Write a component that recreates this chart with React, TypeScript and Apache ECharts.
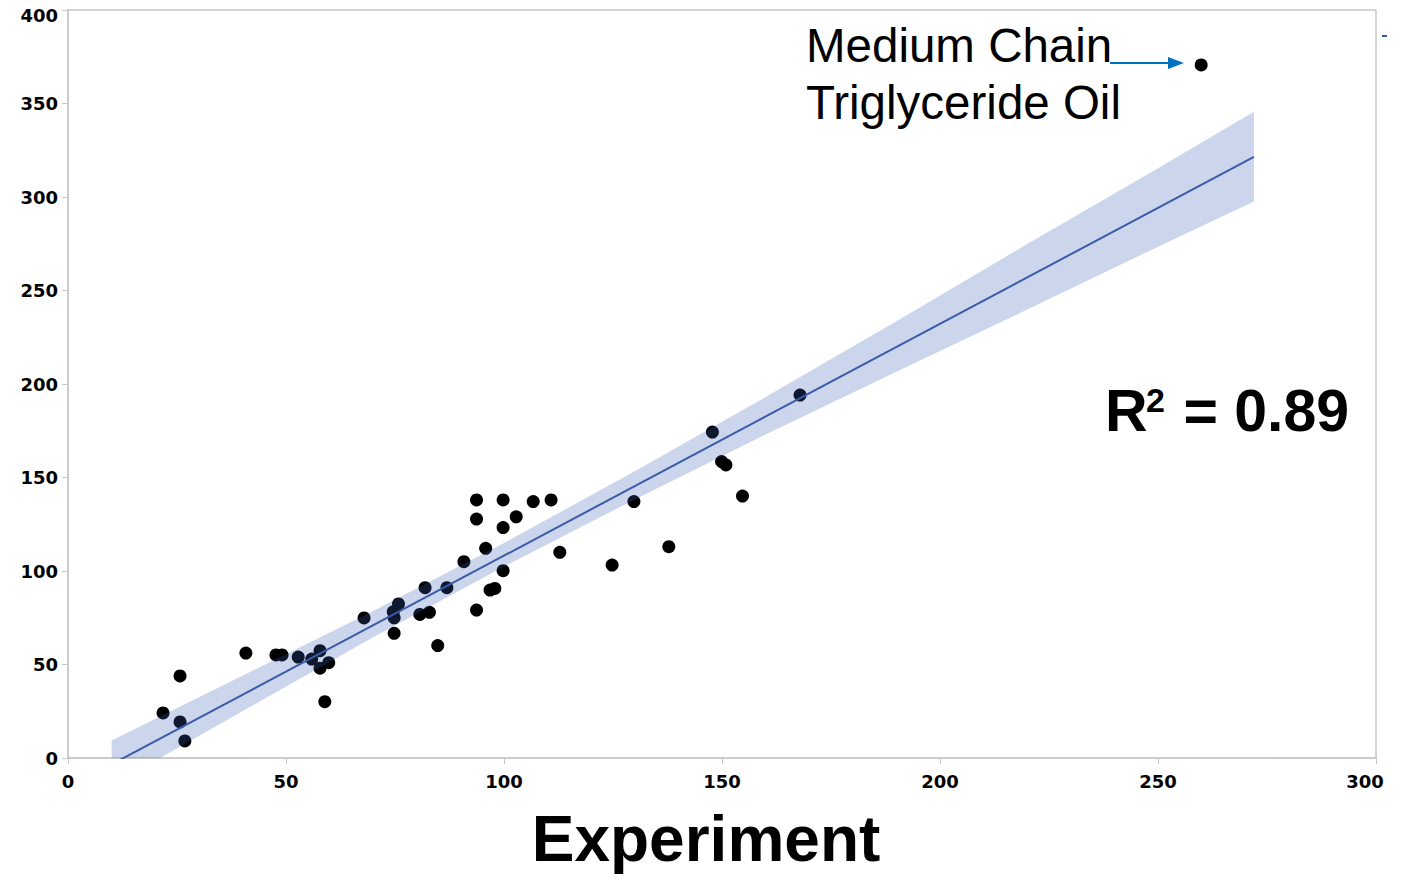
import React, { useEffect, useRef } from "react";
import * as echarts from "echarts";

// Experiment (x) vs predicted (y) values
const xValues = [21.8, 25.7, 25.7, 26.8, 40.8, 47.7, 49.1, 52.8, 55.9, 57.8, 59.8, 57.8, 58.9, 67.9, 75.8, 74.6, 74.8, 74.8, 80.7, 82.9, 81.9, 86.9, 84.8, 90.8, 93.7, 93.7, 93.7, 95.8, 96.8, 97.9, 99.8, 99.8, 99.8, 102.8, 106.7, 110.8, 112.8, 124.8, 129.8, 137.8, 147.8, 149.9, 150.9, 154.7, 167.9, 259.9];
const yValues = [24.1, 43.9, 19.3, 9.1, 56.1, 55.1, 55.1, 54.0, 52.9, 57.4, 51.0, 48.0, 30.1, 74.9, 82.4, 78.2, 75.0, 66.7, 76.8, 77.9, 91.1, 91.1, 60.1, 105.0, 79.1, 127.8, 138.0, 112.1, 89.8, 90.7, 100.2, 123.2, 138.0, 129.0, 137.1, 138.0, 110.0, 103.2, 137.1, 113.0, 174.3, 158.5, 156.7, 140.1, 194.1, 370.6];

// Fitted line (slope, intercept) and its x range
const fitSlope = 1.24;
const fitIntercept = -15.8;
const fitX = [10, 272];

// Confidence band
const bandX = [10, 40, 70, 100, 130, 160, 190, 220, 250, 272];
const bandUpper = [9.3, 44, 78.6, 115, 153.3, 193, 233.6, 274.8, 315.4, 345.6];
const bandLower = [-14.7, 25, 64.6, 102.4, 138.3, 173, 206.6, 239.8, 273.4, 297.6];

const xTicks = [0, 300, 50];
const yTicks = [0, 400, 50];

export default function App() {
  const ref = useRef<HTMLDivElement>(null);
  useEffect(() => {
    if (!ref.current) return;
    const chart = echarts.init(ref.current, undefined, { renderer: "svg" });
    const points = xValues.map((x, i) => [x, yValues[i]]);
    const fitLine = fitX.map((x) => [x, fitSlope * x + fitIntercept]);
    const labelFont = "DejaVu Sans";
    const labelSize = 18;
    const axisGrey = "#C8C8C8";
    chart.setOption({
      animation: false,
      grid: {
        left: 68,
        right: 31,
        top: 10,
        bottom: 116,
        show: true,
        borderColor: axisGrey,
        borderWidth: 1.5,
      },
      xAxis: {
        type: "value",
        min: xTicks[0],
        max: xTicks[1],
        interval: xTicks[2],
        splitLine: { show: false },
        axisLine: { show: true, lineStyle: { color: axisGrey, width: 1.5 } },
        axisTick: { show: true, length: 6, lineStyle: { color: axisGrey } },
        axisLabel: {
          margin: 14,
          color: "#000",
          fontFamily: labelFont,
          fontWeight: "bold",
          fontSize: labelSize,
          formatter: (v: number) => (v === xTicks[1] ? "{last|" + v + "}" : "{n|" + v + "}"),
          rich: {
            n: { fontFamily: labelFont, fontWeight: "bold", fontSize: labelSize, color: "#000" },
            last: { fontFamily: labelFont, fontWeight: "bold", fontSize: labelSize, color: "#000", padding: [0, 22, 0, 0] },
          },
        },
      },
      yAxis: {
        type: "value",
        min: yTicks[0],
        max: yTicks[1],
        interval: yTicks[2],
        splitLine: { show: false },
        axisLine: { show: true, lineStyle: { color: axisGrey, width: 1.5 } },
        axisTick: { show: true, length: 6, lineStyle: { color: axisGrey } },
        axisLabel: {
          margin: 10,
          color: "#000",
          fontFamily: labelFont,
          fontWeight: "bold",
          fontSize: labelSize,
          formatter: (v: number) => (v === yTicks[1] ? "{top|" + v + "}" : "{n|" + v + "}"),
          rich: {
            n: { fontFamily: labelFont, fontWeight: "bold", fontSize: labelSize, color: "#000" },
            top: { fontFamily: labelFont, fontWeight: "bold", fontSize: labelSize, color: "#000", padding: [10, 0, 0, 0] },
          },
        },
      },
      series: [
        {
          type: "scatter",
          data: points,
          symbol: "circle",
          symbolSize: 13,
          itemStyle: { color: "#000", opacity: 1 },
          z: 2,
        },
        {
          type: "custom",
          clip: true,
          data: [[bandX[0], bandLower[0]]],
          z: 3,
          renderItem: (params: any, api: any) => {
            const pts: number[][] = [];
            for (let i = 0; i < bandX.length; i++) pts.push(api.coord([bandX[i], bandUpper[i]]));
            for (let i = bandX.length - 1; i >= 0; i--) pts.push(api.coord([bandX[i], bandLower[i]]));
            return {
              type: "polygon",
              shape: { points: pts },
              style: { fill: "rgba(56,96,185,0.26)", stroke: "none" },
            };
          },
        },
        {
          type: "line",
          data: fitLine,
          clip: true,
          symbol: "none",
          lineStyle: { color: "#3A5BA8", width: 2 },
          z: 4,
        },
      ],
      graphic: [
        {
          type: "text",
          left: 806,
          top: 21,
          style: { text: "Medium Chain", fontFamily: "Liberation Sans", fontSize: 47.5, fill: "#000" },
        },
        {
          type: "text",
          left: 806,
          top: 78,
          style: { text: "Triglyceride Oil", fontFamily: "Liberation Sans", fontSize: 47.5, fill: "#000" },
        },
        {
          type: "line",
          shape: { x1: 1110, y1: 63, x2: 1172, y2: 63 },
          style: { stroke: "#0070C0", lineWidth: 2 },
        },
        {
          type: "polygon",
          shape: { points: [[1168, 57], [1184, 63], [1168, 69]] },
          style: { fill: "#0070C0" },
        },
        {
          type: "line",
          shape: { x1: 1382, y1: 36, x2: 1387, y2: 36 },
          style: { stroke: "#3A5BA8", lineWidth: 2 },
        },
        {
          type: "text",
          x: 1105,
          y: 411,
          style: {
            text: "R",
            fontFamily: "Liberation Sans",
            fontWeight: "bold",
            fontSize: 59,
            fill: "#000",
            verticalAlign: "middle",
          },
        },
        {
          type: "text",
          x: 1146,
          y: 400,
          style: {
            text: "2",
            fontFamily: "Liberation Sans",
            fontWeight: "bold",
            fontSize: 34,
            fill: "#000",
            verticalAlign: "middle",
          },
        },
        {
          type: "text",
          x: 1167,
          y: 411,
          style: {
            text: " = 0.89",
            fontFamily: "Liberation Sans",
            fontWeight: "bold",
            fontSize: 59,
            fill: "#000",
            verticalAlign: "middle",
          },
        },
        {
          type: "text",
          x: 706,
          y: 839,
          style: {
            text: "Experiment",
            fontFamily: "Liberation Sans",
            fontWeight: "bold",
            fontSize: 64,
            fill: "#000",
            align: "center",
            verticalAlign: "middle",
          },
        },
      ],
    });
    return () => chart.dispose();
  }, []);
  return (
    <div
      ref={ref}
      style={{ position: "fixed", left: 0, top: 0, width: 1407, height: 874, background: "#fff" }}
    />
  );
}
